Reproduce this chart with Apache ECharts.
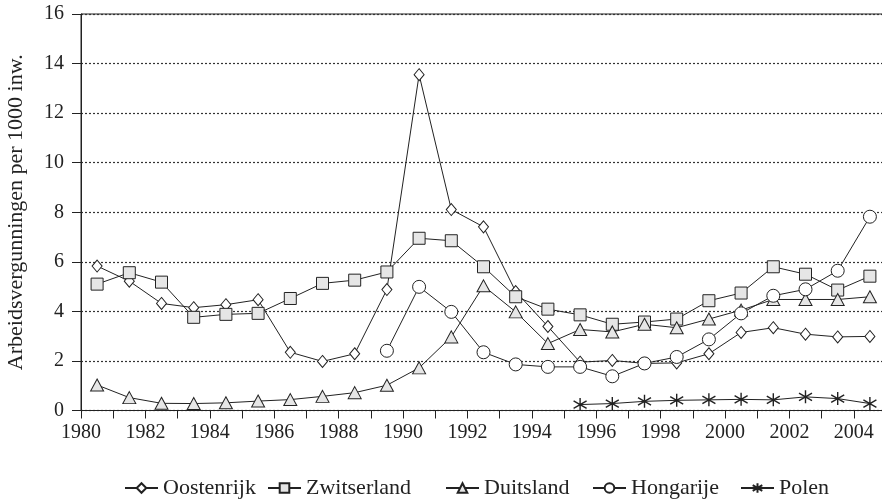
<!DOCTYPE html>
<html lang="nl">

<head>
    <meta charset="UTF-8">
    <title>Arbeidsvergunningen</title>
    <script src="https://cdn.jsdelivr.net/npm/echarts@6/dist/echarts.min.js"></script>
    <style>
        html, body { margin: 0; padding: 0; background: #fff; }
        #chart { width: 882px; height: 500px; }
    </style>
</head>

<body>
    <div id="chart"></div>
    <script>
        // jaren (punten midden in het jaar)
        var years = [1980.5, 1981.5, 1982.5, 1983.5, 1984.5, 1985.5, 1986.5, 1987.5, 1988.5, 1989.5,
            1990.5, 1991.5, 1992.5, 1993.5, 1994.5, 1995.5, 1996.5, 1997.5, 1998.5, 1999.5,
            2000.5, 2001.5, 2002.5, 2003.5, 2004.5];

        var oostenrijk = [5.83, 5.22, 4.32, 4.15, 4.27, 4.47, 2.35, 1.98, 2.29, 4.88,
            13.55, 8.11, 7.41, 4.8, 3.39, 1.95, 2.02, 1.9, 1.92, 2.29,
            3.15, 3.34, 3.08, 2.97, 2.99];
        var zwitserland = [5.1, 5.56, 5.18, 3.76, 3.88, 3.92, 4.52, 5.13, 5.26, 5.59,
            6.95, 6.85, 5.8, 4.59, 4.09, 3.86, 3.48, 3.57, 3.69, 4.43,
            4.74, 5.8, 5.5, 4.86, 5.42];
        var duitsland = [1.03, 0.52, 0.29, 0.28, 0.31, 0.38, 0.44, 0.57, 0.72, 1.02,
            1.72, 2.97, 5.03, 3.98, 2.7, 3.27, 3.17, 3.48, 3.34, 3.69,
            4.05, 4.48, 4.48, 4.48, 4.59];
        var hongarije = [null, null, null, null, null, null, null, null, null, 2.41,
            4.99, 3.98, 2.35, 1.86, 1.76, 1.76, 1.38, 1.9, 2.16, 2.87,
            3.92, 4.63, 4.89, 5.64, 7.82];
        var polen = [null, null, null, null, null, null, null, null, null, null,
            null, null, null, null, null, 0.24, 0.28, 0.37, 0.41, 0.43,
            0.45, 0.43, 0.55, 0.48, 0.28];

        var names = ['Oostenrijk', 'Zwitserland', 'Duitsland', 'Hongarije', 'Polen'];
        var yTicks = [0, 2, 4, 6, 8, 10, 12, 14, 16];

        var asterisk = 'path://M5,0L5,10M0.9,2.1L9.1,7.9M0.9,7.9L9.1,2.1';
        var lineCol = '#222';
        var fontFam = 'Liberation Serif';
        // linker positie van elk legenda-item
        var legendLeft = [119, 262, 440, 587, 735];

        function pairs(vals) {
            return years.map(function(y, i) {
                return [y, vals[i]];
            });
        }

        function mkSeries(name, vals, symbol, size, fill) {
            return {
                name: name,
                type: 'line',
                data: pairs(vals),
                symbol: symbol,
                symbolSize: size,
                showAllSymbol: true,
                connectNulls: false,
                lineStyle: { color: lineCol, width: 1 },
                itemStyle: { color: fill, borderColor: lineCol, borderWidth: 1 },
                emphasis: { disabled: true }
            };
        }

        var legends = names.map(function(n, i) {
            return {
                left: legendLeft[i],
                top: 472,
                itemWidth: 33,
                itemHeight: 12,
                itemGap: 0,
                textStyle: { fontFamily: fontFam, fontSize: 22, color: '#222' },
                data: [{ name: n, textStyle: { fontFamily: fontFam, fontSize: 22 } }]
            };
        });

        var chart = echarts.init(document.getElementById('chart'));
        var option = {
            animation: false,
            backgroundColor: '#fff',
            textStyle: { fontFamily: fontFam, color: '#222' },
            grid: {
                left: 81,
                right: -4,
                top: 14,
                bottom: 89.5,
                outerBoundsMode: 'none',
                containLabel: false,
                show: true,
                borderColor: '#222',
                borderWidth: 1
            },
            legend: legends,
            xAxis: {
                type: 'value',
                min: 1980,
                max: 2005,
                interval: 1,
                axisLine: { lineStyle: { color: '#222', width: 1 } },
                axisTick: { inside: false, length: 8, lineStyle: { color: '#222' } },
                axisLabel: {
                    fontFamily: fontFam,
                    fontSize: 20,
                    color: '#222',
                    margin: 12,
                    formatter: function(v) {
                        return (v % 2 === 0 && v < 2005) ? String(v) : '';
                    }
                },
                splitLine: { show: false }
            },
            yAxis: {
                type: 'value',
                min: yTicks[0],
                max: yTicks[yTicks.length - 1],
                interval: 2,
                name: 'Arbeidsvergunningen per 1000 inw.',
                nameLocation: 'middle',
                nameGap: 54,
                nameTextStyle: { fontFamily: fontFam, fontSize: 22, color: '#222' },
                axisLine: { show: true, lineStyle: { color: '#222', width: 1 } },
                axisTick: { show: true, length: 9, lineStyle: { color: '#222' } },
                axisLabel: { fontFamily: fontFam, fontSize: 20, color: '#222', margin: 17 },
                splitLine: { lineStyle: { color: '#333', width: 1.2, type: [2, 2] } }
            },
            series: [
                mkSeries(names[0], oostenrijk, 'diamond', [10, 12], '#fff'),
                mkSeries(names[1], zwitserland, 'rect', 12, '#e6e6e6'),
                mkSeries(names[2], duitsland, 'triangle', [13, 12], '#e6e6e6'),
                mkSeries(names[3], hongarije, 'circle', 13, '#fff'),
                mkSeries(names[4], polen, asterisk, 13, 'none')
            ]
        };
        option.series[4].itemStyle.borderWidth = 1.4;
        chart.setOption(option);
    </script>
</body>

</html>
